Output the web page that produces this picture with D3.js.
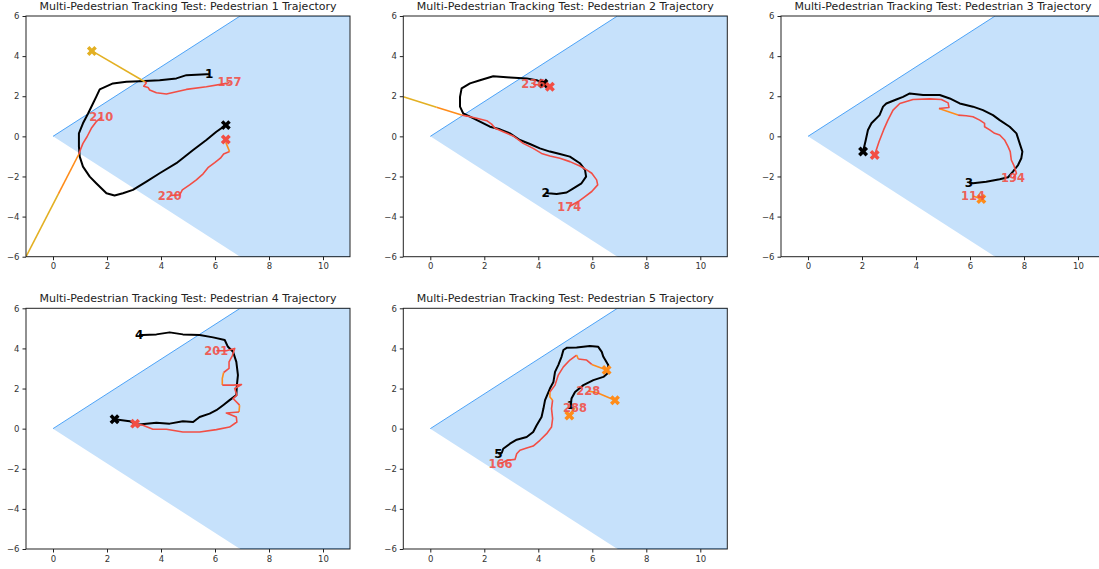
<html>
<head>
<meta charset="utf-8">
<script src="https://d3js.org/d3.v7.min.js"></script>
<style>
    body { margin: 0; background: #fff; }
    .axis path { display: none; }
    .axis line { stroke: #222; }
    .axis text { font-family: "DejaVu Sans"; font-size: 8.5px; fill: #333; }
</style>
</head>
<body>
<script>
// axis ticks and field of view wedge
var xTicks = [0, 2, 4, 6, 8, 10];
var yTicks = [-6, -4, -2, 0, 2, 4, 6];
var fov = [[0, 0], [6.93, 6], [12, 6], [12, -6], [6.93, -6]];

// Pedestrian 1
var gt1 = [[5.78,3.10],[5.68,3.10],[4.94,3.05],[4.57,2.89],[3.95,2.80],[3.21,2.75],[2.72,2.72],[2.22,2.64],[1.73,2.34],[1.60,1.97],[1.48,1.64],[1.30,1.14],[1.11,0.65],[0.96,0.15],[0.96,-0.51],[0.99,-1.01],[1.11,-1.51],[1.36,-2.01],[1.60,-2.34],[1.98,-2.84],[2.28,-2.95],[2.59,-2.84],[2.96,-2.67],[3.46,-2.26],[3.95,-1.84],[4.57,-1.34],[5.19,-0.68],[5.68,-0.18],[6.05,0.23],[6.40,0.56]];
var t157a = [[6.54,2.69],[6.42,2.64],[5.68,2.47],[4.94,2.34],[4.20,2.11],[3.83,2.17],[3.58,2.31],[3.52,2.44],[3.36,2.50],[3.46,2.67],[3.40,2.72]];
var t157b = [[3.40,2.72],[1.44,4.26]];
var t210a = [[1.79,0.95],[1.60,0.73],[1.42,0.40],[1.26,-0.02],[1.11,-0.35],[1.02,-0.65],[0.96,-0.88]];
var t210b = [[0.96,-0.88],[0.20,-2.87]];
var t210c = [[0.20,-2.87],[-1,-6]];
var t220a = [[4.32,-2.95],[4.69,-2.92],[4.79,-2.67],[5.06,-2.42],[5.31,-2.17],[5.56,-1.87],[5.74,-1.56],[5.99,-1.31],[6.20,-1.09],[6.32,-0.88],[6.54,-0.76]];
var t220b = [[6.54,-0.76],[6.40,-0.30]];
var t220c = [[6.40,-0.30],[6.40,-0.16]];

// Pedestrian 2
var gt2 = [[4.27,-2.80],[4.37,-2.84],[4.68,-2.87],[5.05,-2.80],[5.30,-2.59],[5.60,-2.34],[5.77,-2.01],[5.73,-1.67],[5.54,-1.34],[5.17,-1.01],[4.80,-0.88],[4.43,-0.76],[4.06,-0.60],[3.69,-0.38],[3.32,-0.18],[2.95,0.15],[2.58,0.35],[2.21,0.48],[1.84,0.73],[1.47,0.98],[1.22,1.14],[1.10,1.48],[1.10,1.97],[1.16,2.39],[1.47,2.64],[1.84,2.80],[2.33,3.00],[2.95,2.94],[3.57,2.89],[3.94,2.80],[4.19,2.64]];
var t174a = [[5.15,-3.50],[5.48,-3.25],[5.73,-3.00],[5.98,-2.75],[6.20,-2.42],[6.16,-2.17],[5.98,-1.84],[5.79,-1.67],[5.54,-1.48],[5.17,-1.26],[4.80,-1.09],[4.43,-0.98],[4.12,-0.85],[3.81,-0.60],[3.44,-0.35],[3.07,0.02],[2.70,0.23],[2.40,0.40],[2.27,0.61],[2.09,0.78],[1.72,0.90],[1.35,1.01],[1.16,1.06]];
var t174b = [[1.16,1.06],[0.23,1.45]];
var t174c = [[0.23,1.45],[-1,1.97]];
var t236a = [[3.81,2.60],[4.10,2.55],[4.43,2.47]];

// Pedestrian 3
var gt3 = [[5.96,-2.30],[6.11,-2.34],[6.60,-2.26],[7.10,-2.14],[7.41,-2.04],[7.59,-1.76],[7.78,-1.43],[7.90,-1.09],[7.94,-0.76],[7.84,-0.35],[7.72,0.15],[7.47,0.48],[7.10,0.81],[6.85,1.06],[6.48,1.31],[6.11,1.48],[5.62,1.64],[5.25,1.89],[4.88,2.06],[4.26,2.06],[3.77,2.14],[3.52,1.97],[3.27,1.84],[2.90,1.64],[2.78,1.48],[2.65,1.06],[2.35,0.65],[2.22,0.32],[2.14,-0.18],[2.04,-0.76]];
var t194a = [[7.59,-2.09],[7.72,-1.84],[7.62,-1.43],[7.53,-1.18],[7.49,-0.76],[7.41,-0.51],[7.28,-0.18],[7.10,0.07],[6.91,0.15],[6.73,0.32],[6.54,0.48],[6.54,0.65],[6.36,0.81],[6.11,0.98],[5.86,1.03],[5.56,1.06]];
var t194b = [[5.56,1.06],[4.85,1.39]];
var t194c = [[4.85,1.39],[5.22,1.44],[5.19,1.67],[4.94,1.84],[4.51,1.87],[3.89,1.84],[3.40,1.64],[3.15,1.31],[2.96,0.81],[2.80,0.32],[2.63,-0.27],[2.51,-0.76],[2.47,-0.93]];
var t114a = [[6.11,-2.97],[6.42,-3.12]];

// Pedestrian 4
var gt4 = [[3.19,4.67],[3.33,4.67],[3.83,4.70],[4.32,4.80],[4.81,4.70],[5.43,4.67],[5.93,4.55],[6.36,4.42],[6.48,4.08],[6.67,3.83],[6.79,3.33],[6.85,2.67],[6.81,2.17],[6.79,1.67],[6.54,1.42],[6.30,1.17],[6.05,0.92],[5.80,0.75],[5.43,0.58],[5.19,0.33],[4.81,0.37],[4.32,0.25],[3.83,0.30],[3.46,0.25],[3.09,0.20],[2.84,0.37],[2.28,0.47]];
var t201a = [[6.05,3.88],[6.42,3.88],[6.73,4.00],[6.64,3.63],[6.52,3.33],[6.52,3.00],[6.32,2.80]];
var t201b = [[6.32,2.80],[6.27,2.50],[6.27,2.17]];
var t201c = [[6.27,2.17],[6.67,2.17],[6.98,2.20],[6.73,2.00],[6.81,1.67],[6.67,1.50],[6.91,1.17]];
var t201d = [[6.91,1.17],[6.89,0.83]];
var t201e = [[6.89,0.83],[6.42,0.78],[6.79,0.58],[6.81,0.33],[6.54,0.08],[6.05,-0.05],[5.43,-0.17],[4.81,-0.17],[4.20,-0.03],[3.70,-0.03],[3.33,0.17],[3.04,0.25]];

// Pedestrian 5
var gt5 = [[2.52,-1.25],[2.65,-1.20],[2.70,-1.00],[2.95,-0.75],[3.20,-0.55],[3.57,-0.42],[3.81,-0.17],[3.94,0.17],[4.12,0.58],[4.19,1.00],[4.25,1.42],[4.43,2.00],[4.56,2.33],[4.62,2.83],[4.74,3.17],[4.86,3.58],[4.93,3.92],[5.05,4.03],[5.42,4.05],[5.91,4.12],[6.22,4.08],[6.35,3.83],[6.41,3.58],[6.59,3.17],[6.56,2.75],[6.41,2.58],[6.04,2.42],[5.67,2.17],[5.36,1.83],[5.23,1.50],[5.20,1.18]];
var t166a = [[2.60,-1.75],[2.83,-1.58],[3.14,-1.53],[3.20,-1.25],[3.32,-1.08],[3.57,-0.97],[3.81,-0.87],[4.06,-0.58],[4.31,-0.25],[4.49,0.08],[4.53,0.50],[4.49,1.00],[4.53,1.42]];
var t166b = [[4.53,1.42],[4.43,1.58],[4.43,1.83]];
var t166c = [[4.43,1.83],[4.62,2.17],[4.74,2.67],[4.93,3.08],[5.17,3.42],[5.42,3.67]];
var t166d = [[5.42,3.67],[5.48,3.47]];
var t166e = [[5.48,3.47],[5.79,3.42],[5.98,3.20]];
var t166f = [[5.98,3.20],[6.53,2.92]];
var t228a = [[5.85,1.87],[6.16,1.80],[6.84,1.42]];
var t288a = [[5.36,1.03],[5.15,0.66]];

var RED = "#f24e45", ORANGE = "#ff8c1a", GOLD = "#e3b023";

var panels = [
    {n: 1, col: 0, row: 0, gt: gt1, gtId: "1", gtEnd: "x", tracks: [
        {id: "157", parts: [[t157a, RED], [t157b, GOLD]], end: true},
        {id: "210", parts: [[t210a, RED], [t210b, ORANGE], [t210c, GOLD]], end: false},
        {id: "220", parts: [[t220a, RED], [t220b, ORANGE], [t220c, RED]], end: true}]},
    {n: 2, col: 1, row: 0, gt: gt2, gtId: "2", gtEnd: "x", tracks: [
        {id: "174", parts: [[t174a, RED], [t174b, ORANGE], [t174c, GOLD]], end: false},
        {id: "236", parts: [[t236a, RED]], end: true}]},
    {n: 3, col: 2, row: 0, gt: gt3, gtId: "3", gtEnd: "x", tracks: [
        {id: "194", parts: [[t194a, RED], [t194b, ORANGE], [t194c, RED]], end: true},
        {id: "114", parts: [[t114a, ORANGE]], end: true}]},
    {n: 4, col: 0, row: 1, gt: gt4, gtId: "4", gtEnd: "x", tracks: [
        {id: "201", parts: [[t201a, RED], [t201b, ORANGE], [t201c, RED], [t201d, ORANGE], [t201e, RED]], end: true}]},
    {n: 5, col: 1, row: 1, gt: gt5, gtId: "5", gtEnd: "1", tracks: [
        {id: "166", parts: [[t166a, RED], [t166b, ORANGE], [t166c, RED], [t166d, ORANGE], [t166e, RED], [t166f, ORANGE]], end: true},
        {id: "228", parts: [[t228a, ORANGE]], end: true},
        {id: "288", parts: [[t288a, ORANGE]], end: true}]}
];

var lefts = [26, 403.3, 781], tops = [16, 308.3];
var pw = 324, ph = 240.7;

var svg = d3.select("body").append("svg")
    .attr("width", 1099).attr("height", 569);

var xMark = d3.symbol().type(d3.symbolCross).size(62);

panels.forEach(function(p) {
    var x = d3.scaleLinear().domain([-1, 11]).range([0, pw]);
    var y = d3.scaleLinear().domain([-6, 6]).range([ph, 0]);
    var line = d3.line().x(function(d) { return x(d[0]); }).y(function(d) { return y(d[1]); });

    var g = svg.append("g")
        .attr("transform", "translate(" + lefts[p.col] + "," + tops[p.row] + ")");

    g.append("clipPath").attr("id", "clip" + p.n)
        .append("rect").attr("width", pw).attr("height", ph);

    var plot = g.append("g").attr("clip-path", "url(#clip" + p.n + ")");

    // field of view
    plot.append("path")
        .datum(fov)
        .attr("d", line)
        .attr("fill", "#c6e1fb")
        .attr("stroke", "#4da3f7")
        .attr("stroke-width", 1);

    // ground truth
    plot.append("path")
        .datum(p.gt)
        .attr("d", line)
        .attr("fill", "none")
        .attr("stroke", "#000")
        .attr("stroke-width", 2)
        .attr("stroke-linejoin", "round");

    // tracks
    p.tracks.forEach(function(t) {
        t.parts.forEach(function(part) {
            plot.append("path")
                .datum(part[0])
                .attr("d", line)
                .attr("fill", "none")
                .attr("stroke", part[1])
                .attr("stroke-width", 1.6)
                .attr("stroke-linejoin", "round");
        });
    });

    // end markers
    var gtLast = p.gt[p.gt.length - 1];
    if (p.gtEnd == "x") {
        plot.append("path")
            .attr("d", xMark)
            .attr("transform", "translate(" + x(gtLast[0]) + "," + y(gtLast[1]) + ") rotate(45)")
            .attr("fill", "#000");
    } else {
        plot.append("text")
            .attr("x", x(gtLast[0])).attr("y", y(gtLast[1]))
            .attr("text-anchor", "middle").attr("dy", "0.35em")
            .style("font-family", "DejaVu Sans").style("font-weight", "bold").style("font-size", "11px")
            .text(p.gtEnd);
    }
    p.tracks.forEach(function(t) {
        if (!t.end) return;
        var lastPart = t.parts[t.parts.length - 1];
        var pt = lastPart[0][lastPart[0].length - 1];
        plot.append("path")
            .attr("d", xMark)
            .attr("transform", "translate(" + x(pt[0]) + "," + y(pt[1]) + ") rotate(45)")
            .attr("fill", lastPart[1]);
    });

    // ids at the start of each path
    plot.append("text")
        .attr("x", x(p.gt[0][0])).attr("y", y(p.gt[0][1]))
        .attr("text-anchor", "middle").attr("dy", "0.35em")
        .style("font-family", "DejaVu Sans").style("font-weight", "bold").style("font-size", "12px")
        .text(p.gtId);
    p.tracks.forEach(function(t) {
        var s = t.parts[0][0][0];
        plot.append("text")
            .attr("x", x(s[0])).attr("y", y(s[1]))
            .attr("text-anchor", "middle").attr("dy", "0.35em")
            .style("font-family", "DejaVu Sans").style("font-weight", "bold").style("font-size", "11.5px")
            .attr("fill", RED).attr("fill-opacity", 0.9)
            .text(t.id);
    });

    // axes
    g.append("g").attr("class", "axis")
        .attr("transform", "translate(0," + ph + ")")
        .call(d3.axisBottom(x).tickValues(xTicks).tickSize(3.5).tickPadding(3));
    g.append("g").attr("class", "axis")
        .call(d3.axisLeft(y).tickValues(yTicks).tickSize(3.5).tickPadding(3));

    g.append("rect")
        .attr("width", pw).attr("height", ph)
        .attr("fill", "none").attr("stroke", "#222").attr("stroke-width", 1);

    g.append("text")
        .attr("x", pw / 2).attr("y", -6)
        .attr("text-anchor", "middle")
        .style("font-family", "DejaVu Sans").style("font-size", "11px").attr("fill", "#222")
        .text("Multi-Pedestrian Tracking Test: Pedestrian " + p.n + " Trajectory");
});
</script>
</body>
</html>
